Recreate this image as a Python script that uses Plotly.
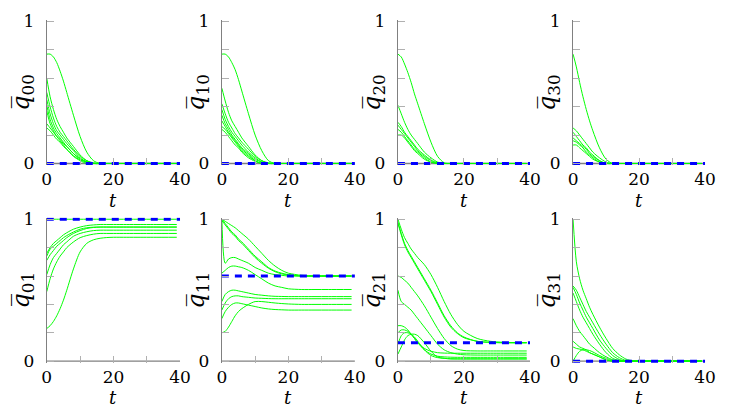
import plotly.graph_objects as go
from plotly.subplots import make_subplots

# time grid
T = [0, 1, 2, 3, 4, 5, 6, 8, 10, 12, 14, 16, 18, 20, 24, 28, 32, 39]

Q00 = [
    [0.77, 0.77, 0.75, 0.71, 0.65, 0.58, 0.50, 0.34, 0.19, 0.08, 0.02, 0, 0, 0, 0, 0, 0, 0],
    [0.60, 0.47, 0.38, 0.31, 0.26, 0.22, 0.18, 0.12, 0.06, 0.02, 0.005, 0, 0, 0, 0, 0, 0, 0],
    [0.50, 0.40, 0.32, 0.26, 0.22, 0.19, 0.16, 0.10, 0.05, 0.02, 0, 0, 0, 0, 0, 0, 0, 0],
    [0.45, 0.35, 0.28, 0.23, 0.20, 0.17, 0.14, 0.09, 0.04, 0.01, 0, 0, 0, 0, 0, 0, 0, 0],
    [0.41, 0.31, 0.25, 0.21, 0.18, 0.15, 0.12, 0.07, 0.03, 0.01, 0, 0, 0, 0, 0, 0, 0, 0],
    [0.37, 0.28, 0.23, 0.19, 0.16, 0.13, 0.10, 0.05, 0.02, 0, 0, 0, 0, 0, 0, 0, 0, 0],
    [0.28, 0.25, 0.22, 0.19, 0.17, 0.14, 0.12, 0.07, 0.035, 0.012, 0, 0, 0, 0, 0, 0, 0, 0],
    [0.25, 0.23, 0.20, 0.17, 0.15, 0.12, 0.10, 0.055, 0.025, 0.008, 0, 0, 0, 0, 0, 0, 0, 0],
]
Q10 = [
    [0.77, 0.77, 0.75, 0.71, 0.66, 0.59, 0.51, 0.35, 0.20, 0.09, 0.02, 0, 0, 0, 0, 0, 0, 0],
    [0.53, 0.44, 0.36, 0.30, 0.26, 0.22, 0.18, 0.12, 0.06, 0.02, 0.005, 0, 0, 0, 0, 0, 0, 0],
    [0.42, 0.35, 0.29, 0.25, 0.21, 0.18, 0.15, 0.10, 0.05, 0.02, 0, 0, 0, 0, 0, 0, 0, 0],
    [0.38, 0.31, 0.26, 0.22, 0.19, 0.16, 0.13, 0.08, 0.04, 0.01, 0, 0, 0, 0, 0, 0, 0, 0],
    [0.34, 0.28, 0.24, 0.20, 0.17, 0.14, 0.11, 0.07, 0.03, 0.01, 0, 0, 0, 0, 0, 0, 0, 0],
    [0.30, 0.26, 0.22, 0.19, 0.16, 0.13, 0.10, 0.06, 0.02, 0, 0, 0, 0, 0, 0, 0, 0, 0],
    [0.26, 0.24, 0.21, 0.18, 0.15, 0.12, 0.09, 0.05, 0.02, 0, 0, 0, 0, 0, 0, 0, 0, 0],
    [0.24, 0.22, 0.19, 0.16, 0.13, 0.11, 0.08, 0.04, 0.015, 0, 0, 0, 0, 0, 0, 0, 0, 0],
]
Q20 = [
    [0.77, 0.75, 0.70, 0.64, 0.57, 0.49, 0.42, 0.28, 0.15, 0.05, 0.005, 0, 0, 0, 0, 0, 0, 0],
    [0.41, 0.35, 0.29, 0.24, 0.20, 0.17, 0.14, 0.08, 0.04, 0.01, 0, 0, 0, 0, 0, 0, 0, 0],
    [0.29, 0.26, 0.22, 0.19, 0.16, 0.13, 0.10, 0.06, 0.025, 0.005, 0, 0, 0, 0, 0, 0, 0, 0],
    [0.27, 0.24, 0.21, 0.18, 0.15, 0.12, 0.09, 0.05, 0.02, 0, 0, 0, 0, 0, 0, 0, 0, 0],
    [0.24, 0.22, 0.19, 0.16, 0.13, 0.10, 0.08, 0.04, 0.01, 0, 0, 0, 0, 0, 0, 0, 0, 0],
    [0.20, 0.20, 0.18, 0.15, 0.12, 0.09, 0.07, 0.03, 0.01, 0, 0, 0, 0, 0, 0, 0, 0, 0],
]
Q30 = [
    [0.77, 0.68, 0.57, 0.47, 0.38, 0.30, 0.23, 0.11, 0.03, 0, 0, 0, 0, 0, 0, 0, 0, 0],
    [0.25, 0.23, 0.20, 0.17, 0.14, 0.11, 0.08, 0.04, 0.01, 0, 0, 0, 0, 0, 0, 0, 0, 0],
    [0.22, 0.19, 0.16, 0.13, 0.11, 0.08, 0.06, 0.02, 0, 0, 0, 0, 0, 0, 0, 0, 0, 0],
    [0.18, 0.16, 0.14, 0.12, 0.10, 0.07, 0.05, 0.02, 0, 0, 0, 0, 0, 0, 0, 0, 0, 0],
    [0.16, 0.15, 0.13, 0.11, 0.08, 0.06, 0.04, 0.01, 0, 0, 0, 0, 0, 0, 0, 0, 0, 0],
    [0.13, 0.13, 0.11, 0.09, 0.07, 0.05, 0.03, 0.01, 0, 0, 0, 0, 0, 0, 0, 0, 0, 0],
]
Q01 = [
    [1.0] * 18,
    [0.76, 0.80, 0.83, 0.85, 0.87, 0.89, 0.905, 0.93, 0.945, 0.955, 0.96, 0.963, 0.963, 0.963, 0.963, 0.963, 0.963, 0.963],
    [0.74, 0.79, 0.81, 0.83, 0.85, 0.87, 0.885, 0.91, 0.93, 0.94, 0.944, 0.945, 0.945, 0.945, 0.945, 0.945, 0.945, 0.945],
    [0.71, 0.75, 0.78, 0.81, 0.83, 0.85, 0.87, 0.90, 0.92, 0.935, 0.942, 0.945, 0.945, 0.945, 0.945, 0.945, 0.945, 0.945],
    [0.61, 0.68, 0.73, 0.76, 0.79, 0.82, 0.84, 0.88, 0.90, 0.912, 0.92, 0.923, 0.923, 0.923, 0.923, 0.923, 0.923, 0.923],
    [0.49, 0.58, 0.65, 0.70, 0.74, 0.77, 0.80, 0.84, 0.87, 0.885, 0.895, 0.90, 0.90, 0.90, 0.90, 0.90, 0.90, 0.90],
    [0.23, 0.25, 0.28, 0.32, 0.37, 0.43, 0.50, 0.65, 0.77, 0.83, 0.855, 0.866, 0.871, 0.873, 0.873, 0.873, 0.873, 0.873],
]
Q11 = [
    [1.0, 0.985, 0.97, 0.955, 0.94, 0.92, 0.90, 0.86, 0.81, 0.76, 0.71, 0.67, 0.64, 0.62, 0.605, 0.60, 0.60, 0.60],
    [1.0, 0.97, 0.94, 0.91, 0.89, 0.86, 0.84, 0.79, 0.74, 0.70, 0.66, 0.635, 0.62, 0.61, 0.60, 0.60, 0.60, 0.60],
    [0.99, 0.96, 0.93, 0.90, 0.88, 0.85, 0.83, 0.78, 0.73, 0.69, 0.655, 0.63, 0.615, 0.607, 0.60, 0.60, 0.60, 0.60],
    [1.0, 0.69, 0.72, 0.73, 0.73, 0.72, 0.71, 0.69, 0.66, 0.64, 0.62, 0.61, 0.605, 0.60, 0.60, 0.60, 0.60, 0.60],
    [0.62, 0.64, 0.66, 0.67, 0.67, 0.665, 0.66, 0.64, 0.61, 0.58, 0.55, 0.53, 0.52, 0.51, 0.505, 0.505, 0.505, 0.505],
    [0.42, 0.47, 0.49, 0.50, 0.50, 0.495, 0.49, 0.48, 0.47, 0.465, 0.46, 0.457, 0.456, 0.455, 0.455, 0.455, 0.455, 0.455],
    [0.36, 0.41, 0.44, 0.455, 0.46, 0.46, 0.455, 0.45, 0.445, 0.443, 0.441, 0.44, 0.44, 0.44, 0.44, 0.44, 0.44, 0.44],
    [0.30, 0.35, 0.38, 0.40, 0.41, 0.41, 0.405, 0.395, 0.385, 0.375, 0.368, 0.364, 0.362, 0.36, 0.36, 0.36, 0.36, 0.36],
    [0.20, 0.21, 0.24, 0.28, 0.32, 0.35, 0.37, 0.40, 0.42, 0.42, 0.415, 0.41, 0.406, 0.403, 0.40, 0.40, 0.40, 0.40],
]
Q21 = [
    [1.0, 0.93, 0.87, 0.83, 0.79, 0.76, 0.73, 0.68, 0.61, 0.52, 0.42, 0.33, 0.26, 0.21, 0.16, 0.14, 0.133, 0.13],
    [0.98, 0.90, 0.83, 0.78, 0.74, 0.70, 0.66, 0.58, 0.50, 0.41, 0.32, 0.25, 0.20, 0.17, 0.14, 0.133, 0.13, 0.13],
    [0.97, 0.89, 0.82, 0.77, 0.73, 0.69, 0.65, 0.57, 0.49, 0.40, 0.31, 0.24, 0.195, 0.165, 0.14, 0.132, 0.13, 0.13],
    [0.60, 0.59, 0.57, 0.55, 0.52, 0.49, 0.46, 0.39, 0.31, 0.23, 0.16, 0.11, 0.085, 0.075, 0.072, 0.072, 0.072, 0.072],
    [0.50, 0.42, 0.40, 0.38, 0.36, 0.33, 0.30, 0.24, 0.18, 0.12, 0.08, 0.06, 0.05, 0.045, 0.043, 0.043, 0.043, 0.043],
    [0.25, 0.25, 0.24, 0.22, 0.19, 0.16, 0.13, 0.09, 0.07, 0.06, 0.057, 0.056, 0.056, 0.056, 0.056, 0.056, 0.056, 0.056],
    [0.20, 0.22, 0.22, 0.21, 0.19, 0.16, 0.13, 0.08, 0.05, 0.035, 0.03, 0.028, 0.027, 0.027, 0.027, 0.027, 0.027, 0.027],
    [0.12, 0.18, 0.20, 0.20, 0.19, 0.17, 0.14, 0.08, 0.04, 0.025, 0.02, 0.017, 0.016, 0.016, 0.016, 0.016, 0.016, 0.016],
    [0.05, 0.10, 0.15, 0.18, 0.19, 0.19, 0.18, 0.13, 0.07, 0.03, 0.02, 0.016, 0.016, 0.016, 0.016, 0.016, 0.016, 0.016],
]
Q31 = [
    [1.0, 0.70, 0.58, 0.50, 0.44, 0.38, 0.33, 0.24, 0.16, 0.09, 0.045, 0.015, 0.003, 0, 0, 0, 0, 0],
    [0.53, 0.50, 0.45, 0.40, 0.35, 0.31, 0.27, 0.19, 0.12, 0.06, 0.025, 0.005, 0, 0, 0, 0, 0, 0],
    [0.52, 0.47, 0.41, 0.36, 0.31, 0.27, 0.23, 0.15, 0.09, 0.04, 0.012, 0, 0, 0, 0, 0, 0, 0],
    [0.48, 0.42, 0.36, 0.31, 0.27, 0.23, 0.19, 0.12, 0.06, 0.02, 0.005, 0, 0, 0, 0, 0, 0, 0],
    [0.30, 0.25, 0.21, 0.18, 0.15, 0.12, 0.10, 0.06, 0.03, 0.01, 0, 0, 0, 0, 0, 0, 0, 0],
    [0.14, 0.12, 0.10, 0.09, 0.08, 0.06, 0.05, 0.03, 0.01, 0, 0, 0, 0, 0, 0, 0, 0, 0],
    [0.10, 0.09, 0.085, 0.08, 0.07, 0.06, 0.05, 0.03, 0.01, 0, 0, 0, 0, 0, 0, 0, 0, 0],
    [0.0, 0.04, 0.07, 0.08, 0.08, 0.075, 0.065, 0.04, 0.02, 0.005, 0, 0, 0, 0, 0, 0, 0, 0],
]

PANEL_NAMES = ["00", "10", "20", "30", "01", "11", "21", "31"]
PANEL_DATA = [Q00, Q10, Q20, Q30, Q01, Q11, Q21, Q31]
TARGET = [0.0, 0.0, 0.0, 0.0, 1.0, 0.6, 0.13, 0.0]
X_TICKS = [0, 20, 40]
X_MINOR_STEP = 10
Y_TICKS = [0, 1]
Y_MINOR_STEP = 0.2

W, H = 735, 416
COL_L = [42.7, 221.7, 401.7, 580.7]
COL_R = [179.0, 357.7, 536.7, 715.7]
ROW_Y0 = [161.7, 367.3]  # pixel of y=0
ROW_Y1 = [14.0, 219.7]   # pixel of y=1
YPAD = 0.012

FONT = "DejaVu Serif"
AXIS_COLOR = "#808080"
TICK_COLOR = "#b0b0b0"

fig = make_subplots(rows=2, cols=4)

for i, (name, curves, tgt) in enumerate(zip(PANEL_NAMES, PANEL_DATA, TARGET)):
    r, c = i // 4 + 1, i % 4 + 1
    for cur in curves:
        fig.add_trace(go.Scatter(x=T, y=cur, mode="lines",
                                 line=dict(color="#00ff00", width=1, shape="spline", smoothing=0.8),
                                 showlegend=False, hoverinfo="skip"), row=r, col=c)
    fig.add_trace(go.Scatter(x=[0, 40], y=[tgt, tgt], mode="lines",
                             line=dict(color="#0000ff", width=3, dash="7px,6px"),
                             showlegend=False, hoverinfo="skip"), row=r, col=c)

annotations = []
shapes = []
for i, name in enumerate(PANEL_NAMES):
    r, c = i // 4, i % 4
    n = i + 1
    xa = "xaxis" if n == 1 else f"xaxis{n}"
    ya = "yaxis" if n == 1 else f"yaxis{n}"
    xref = "x" if n == 1 else f"x{n}"
    yref = "y" if n == 1 else f"y{n}"
    ppu = ROW_Y0[r] - ROW_Y1[r]
    ybot = ROW_Y0[r] + YPAD * ppu
    ytop = ROW_Y1[r] - YPAD * ppu
    fig.layout[xa].update(
        domain=[COL_L[c] / W, COL_R[c] / W], range=[0, 40],
        tickmode="array", tickvals=X_TICKS,
        ticks="inside", ticklen=7, tickwidth=1, tickcolor=TICK_COLOR,
        minor=dict(ticks="inside", ticklen=7, tickwidth=1, tickcolor=TICK_COLOR,
                   tick0=0, dtick=X_MINOR_STEP, showgrid=False),
        ticklabelstandoff=2,
        showline=False, showgrid=False, zeroline=False,
        tickfont=dict(family=FONT, size=17, color="black"),
    )
    fig.layout[ya].update(
        domain=[1 - ybot / H, 1 - ytop / H], range=[-YPAD, 1 + YPAD],
        tickmode="array", tickvals=Y_TICKS,
        ticks="inside", ticklen=7, tickwidth=1, tickcolor=TICK_COLOR,
        minor=dict(ticks="inside", ticklen=7, tickwidth=1, tickcolor=TICK_COLOR,
                   tick0=0, dtick=Y_MINOR_STEP, showgrid=False),
        ticklabelstandoff=8,
        showline=True, linecolor=AXIS_COLOR, linewidth=1.3,
        showgrid=False, zeroline=False,
        tickfont=dict(family=FONT, size=17, color="black"),
    )
    shapes.append(dict(type="line", xref=xref, yref=yref, x0=0, x1=40, y0=0, y1=0,
                       line=dict(color=AXIS_COLOR, width=1.3), layer="below"))
    # axis titles
    annotations.append(dict(text="<i>t</i>", xref="paper", yref="paper",
                            x=(COL_L[c] + COL_R[c]) / 2 / W, y=1 - (ROW_Y0[r] + 38) / H,
                            xanchor="center", yanchor="middle", showarrow=False,
                            font=dict(family=FONT, size=18, color="black")))
    annotations.append(dict(text="<i>q\u0305</i><sub>" + name + "</sub>", xref="paper", yref="paper",
                            x=(COL_L[c] - 25) / W, y=1 - (ROW_Y0[r] + ROW_Y1[r]) / 2 / H,
                            xanchor="center", yanchor="middle", showarrow=False, textangle=-90,
                            font=dict(family=FONT, size=24, color="black")))

fig.update_layout(width=W, height=H, margin=dict(l=0, r=0, t=0, b=0),
                  paper_bgcolor="white", plot_bgcolor="white",
                  shapes=shapes, annotations=annotations)

fig.write_html("out.html")
